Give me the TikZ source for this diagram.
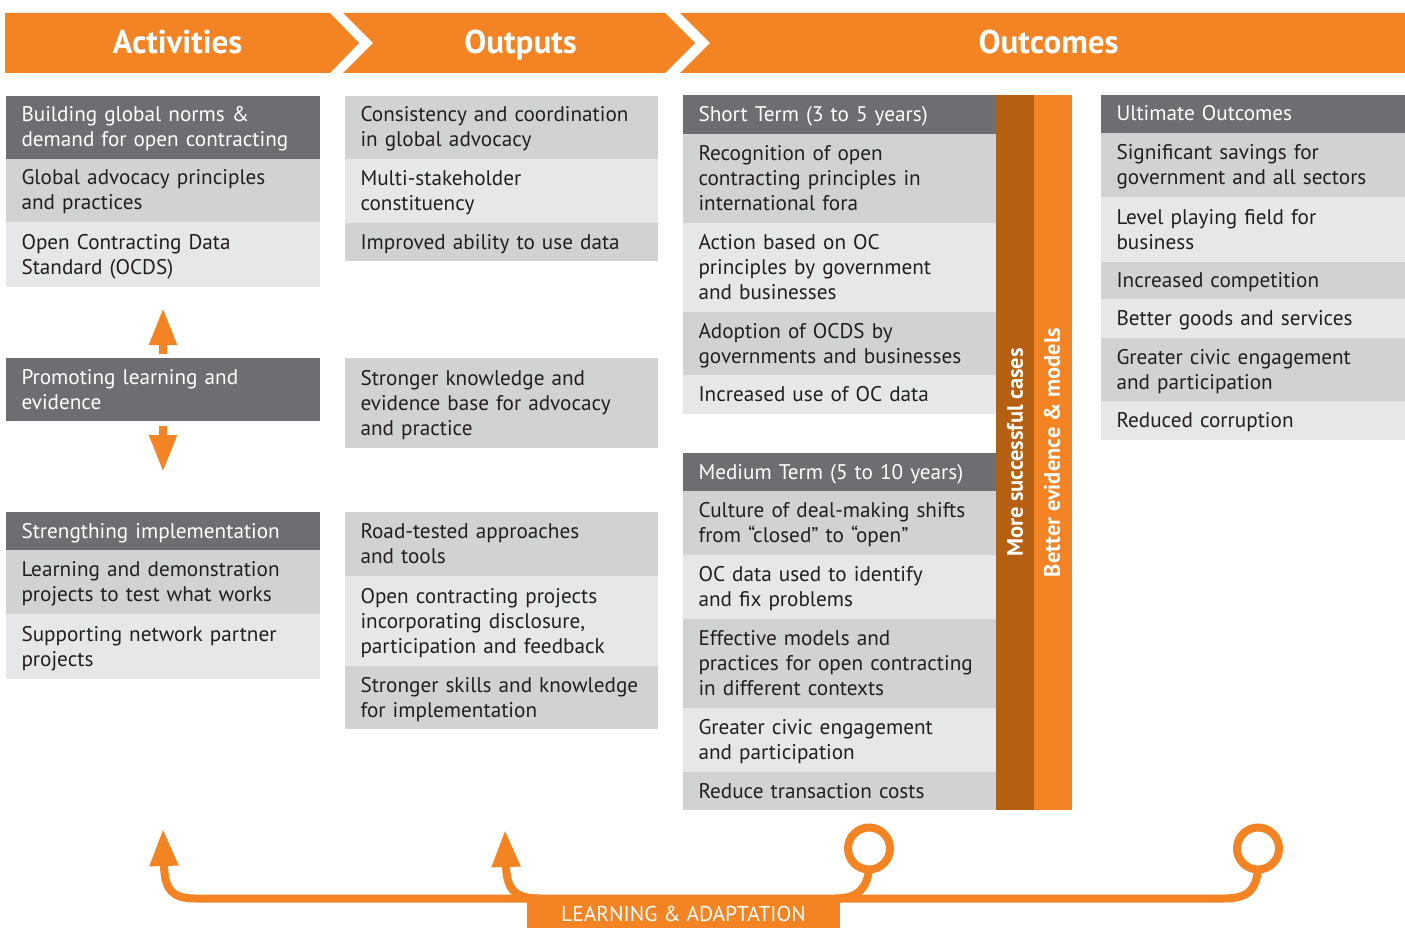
\documentclass[tikz,border=0pt]{standalone}
\usepackage{fontspec}
\setmainfont{PT Sans}
\usetikzlibrary{arrows.meta}
\definecolor{org}{HTML}{F48423}
\definecolor{dorg}{HTML}{B45F11}
\definecolor{dk}{HTML}{6D6E71}
\definecolor{lg}{HTML}{D1D2D4}
\definecolor{xg}{HTML}{E6E7E8}
\definecolor{txt}{HTML}{231F20}
\newcommand\cst{\rule[-5.5pt]{0pt}{25pt}}
\newcommand\bodyf{\fontsize{21.2}{25}\selectfont}
\tikzset{
  cell/.style={rectangle, anchor=north west, inner xsep=15.5pt, inner ysep=0pt, outer sep=0pt, align=left, font=\bodyf, text=txt, minimum height=#1},
  dkc/.style={cell=#1, fill=dk, text=white},
  lgc/.style={cell=#1, fill=lg},
  xgc/.style={cell=#1, fill=xg},
  wA/.style={text width=283pt},
  wB/.style={text width=282pt},
  wD/.style={text width=273pt},
  headtxt/.style={text=white, anchor=base, font=\fontsize{33}{38}\selectfont\bfseries},
  bartxt/.style={text=white, rotate=90, font=\fontsize{22.5}{26}\selectfont\bfseries},
  vert/.style={draw=org, line width=8pt, -{Triangle[width=26pt,length=37pt]}},
  loopline/.style={draw=org, line width=8pt},
  looptip/.style={loopline, {Triangle[width=27pt,length=37pt]}-},
  ring/.style={circle, draw=org, line width=8pt, minimum size=42pt, inner sep=0pt, outer sep=0pt},
}
\begin{document}
\begin{tikzpicture}[x=1pt, y=-1pt]
\useasboundingbox (0,0) rectangle (1405,928);
% header band
\fill[org] (5,13) -- (330,13) -- (359,43) -- (330,73) -- (5,73) -- cycle;
\fill[org] (343,13) -- (665,13) -- (695,43) -- (665,73) -- (343,73) -- (373,43) -- cycle;
\fill[org] (680,13) -- (1405,13) -- (1405,73) -- (680,73) -- (710,43) -- cycle;
\node[headtxt] (hA) at (177.5,53.5) {Activities};
\node[headtxt] (hO) at (520.5,53.5) {Outputs};
\node[headtxt] (hC) at (1048.5,53.5) {Outcomes};
% column 1
\node[dkc=63, wA] (a1) at (6,96) {\cst Building global norms \&\\demand for open contracting\cst};
\node[lgc=63, wA] (a2) at (6,159) {\cst Global advocacy principles\\and practices\cst};
\node[xgc=65, wA] (a3) at (6,222) {\cst Open Contracting Data\\Standard (OCDS)\cst};
\node[dkc=63, wA] (a4) at (6,358) {\cst Promoting learning and\\evidence\cst};
\node[dkc=38, wA] (a5) at (6,512) {\cst Strengthing implementation\cst};
\node[lgc=64, wA] (a6) at (6,550) {\cst Learning and demonstration\\projects to test what works\cst};
\node[xgc=65, wA] (a7) at (6,614) {\cst Supporting network partner\\projects\cst};
\draw[vert] ([yshift=4pt]a4.north) -- ([yshift=-21pt]a3.south);
\draw[vert] ([yshift=-5pt]a4.south) -- ([yshift=40pt]a5.north);
% column 2
\node[lgc=63, wB] (b1) at (345,96) {\cst Consistency and coordination\\in global advocacy\cst};
\node[xgc=64, wB] (b2) at (345,159) {\cst Multi-stakeholder\\constituency\cst};
\node[lgc=38, wB] (b3) at (345,223) {\cst Improved ability to use data\cst};
\node[lgc=90, wB] (b4) at (345,358) {\cst Stronger knowledge and\\evidence base for advocacy\\and practice\cst};
\node[lgc=64, wB] (b5) at (345,512) {\cst Road-tested approaches\\and tools\cst};
\node[xgc=90, wB] (b6) at (345,576) {\cst Open contracting projects\\incorporating disclosure,\\participation and feedback\cst};
\node[lgc=63, wB] (b7) at (345,666) {\cst Stronger skills and knowledge\\for implementation\cst};
% column 3
\node[dkc=39, wB] (c1) at (683,95) {\cst Short Term (3 to 5 years)\cst};
\node[lgc=89, wB] (c2) at (683,134) {\cst Recognition of open\\contracting principles in\\international fora\cst};
\node[xgc=89, wB] (c3) at (683,223) {\cst Action based on OC\\principles by government\\and businesses\cst};
\node[lgc=63, wB] (c4) at (683,312) {\cst Adoption of OCDS by\\governments and businesses\cst};
\node[xgc=39, wB] (c5) at (683,375) {\cst Increased use of OC data\cst};
\node[dkc=38, wB] (c6) at (683,453) {\cst Medium Term (5 to 10 years)\cst};
\node[lgc=64, wB] (c7) at (683,491) {\cst Culture of deal-making shifts\\from “closed” to “open”\cst};
\node[xgc=64, wB] (c8) at (683,555) {\cst OC data used to identify\\and fix problems\cst};
\node[lgc=89, wB] (c9) at (683,619) {\cst Effective models and\\practices for open contracting\\in different contexts\cst};
\node[xgc=64, wB] (c10) at (683,708) {\cst Greater civic engagement\\and participation\cst};
\node[lgc=38, wB] (c11) at (683,772) {\cst Reduce transaction costs\cst};
% bars
\fill[dorg] (996,95) rectangle (1034,810);
\fill[org] (1034,95) rectangle (1072,810);
\node[bartxt] (m1) at (1015,452.5) {More successful cases};
\node[bartxt] (m2) at (1052,452.5) {Better evidence \& models};
% column 4
\node[dkc=38, wD] (d1) at (1101,95) {\cst Ultimate Outcomes\cst};
\node[lgc=64, wD] (d2) at (1101,133) {\cst Significant savings for\\government and all sectors\cst};
\node[xgc=65, wD] (d3) at (1101,197) {\cst Level playing field for\\business\cst};
\node[lgc=37, wD] (d4) at (1101,262) {\cst Increased competition\cst};
\node[xgc=39, wD] (d5) at (1101,299) {\cst Better goods and services\cst};
\node[lgc=63, wD] (d6) at (1101,338) {\cst Greater civic engagement\\and participation\cst};
\node[xgc=39, wD] (d7) at (1101,401) {\cst Reduced corruption\cst};
% learning loop
\node[fill=org, minimum width=313pt, minimum height=33pt, inner sep=0pt, text=white, text height=19pt, text depth=0pt, font=\fontsize{21.5}{24}\selectfont] (lab) at (683.5,911.5) {LEARNING \& ADAPTATION};
\node[ring] (o1) at (869,848.5) {};
\node[ring] (o2) at (1258,848.5) {};
\coordinate (t1) at (163,829);
\coordinate (t2) at (505,830);
\draw[looptip] (t1) -- (164,866) .. controls (165,890) and (172,898.5) .. (196,898.5) -- (1224,898.5) .. controls (1250,898.5) and (1256,888) .. (o2.south);
\draw[looptip] (t2) -- (506,866) .. controls (507,890) and (515,898.5) .. (540,898.5);
\draw[loopline] (o1.south) .. controls (867,888) and (858,898.5) .. (835,898.5);
\end{tikzpicture}
\end{document}
